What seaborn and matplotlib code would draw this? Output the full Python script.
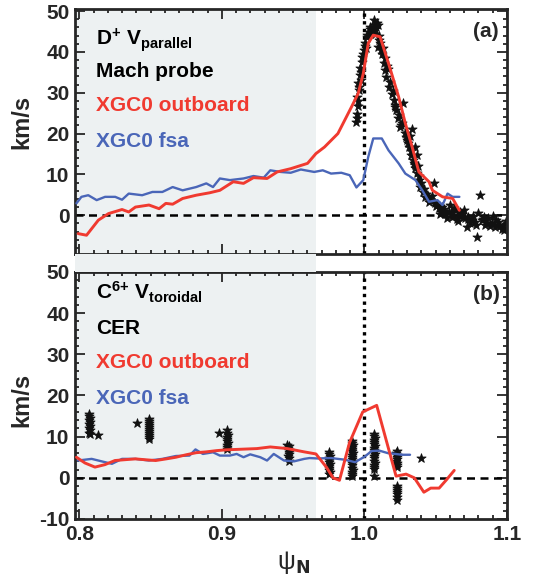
import numpy as np
import pandas as pd
import seaborn as sns
from matplotlib import pyplot as plt
from matplotlib.ticker import MultipleLocator
from matplotlib.patches import Rectangle
from matplotlib.transforms import blended_transform_factory

sns.set_theme(style="ticks")
plt.rcParams['font.family'] = ['Liberation Sans', 'DejaVu Sans']
plt.rcParams['font.weight'] = 'bold'
plt.rcParams['mathtext.default'] = 'regular'

RED = "#f03a30"
BLUE = "#4a66b8"
SHADE = "#edf1f2"

# ---- panel (a): D+ V_parallel ----
a_red_x = [0.7992, 0.8051, 0.8134, 0.8205, 0.83, 0.8347, 0.8394, 0.8489, 0.856, 0.8607,
           0.8655, 0.8725, 0.882, 0.8915, 0.8986, 0.908, 0.9152, 0.9222, 0.9317, 0.9388,
           0.9483, 0.9601, 0.966, 0.972, 0.9814, 0.9909, 0.9956, 0.9992, 1.0027, 1.0062,
           1.011, 1.0169, 1.024, 1.0287, 1.0335, 1.0382, 1.0453, 1.0477, 1.0548, 1.0619, 1.0666]
a_red_y = [-4.5, -4.9, -1.2, 0.4, 1.4, 0.8, 2.0, 2.5, 1.6, 2.9,
           2.7, 4.1, 4.9, 5.5, 6.1, 8.2, 7.8, 9.2, 9.0, 10.6,
           11.4, 12.7, 15.1, 16.7, 20.0, 26.5, 29.8, 34.7, 42.1, 44.1,
           43.7, 37.2, 29.0, 22.5, 16.7, 10.6, 8.2, 6.1, 4.5, 4.1, 1.2]

a_blue_x = [0.798, 0.8015, 0.8063, 0.8122, 0.8181, 0.8252, 0.83, 0.8347, 0.8441, 0.8513,
            0.8583, 0.8655, 0.8725, 0.882, 0.8891, 0.8938, 0.8986, 0.9057, 0.9152, 0.9222,
            0.9294, 0.934, 0.9412, 0.9483, 0.9554, 0.9648, 0.9708, 0.9766, 0.9838, 0.9897,
            0.9944, 0.9992, 1.0027, 1.0062, 1.0122, 1.0169, 1.024, 1.0287, 1.0358, 1.0406,
            1.0453, 1.0512, 1.0548, 1.0583, 1.0619, 1.0666]
a_blue_y = [2.9, 4.5, 4.9, 3.7, 4.5, 4.5, 3.8, 5.3, 4.9, 5.7,
            5.7, 6.9, 6.1, 6.9, 7.8, 6.9, 9.0, 8.6, 9.0, 9.6,
            9.2, 11.0, 10.6, 10.4, 11.2, 10.6, 11.0, 10.2, 10.4, 9.8,
            6.8, 8.6, 14.3, 18.8, 18.8, 15.9, 12.7, 10.2, 8.6, 6.1,
            3.3, 3.7, 2.5, 5.3, 4.5, 4.5]

mach_x = [0.9942, 0.9949, 0.9949, 0.9956, 0.996, 0.9956, 0.9968, 0.9972, 0.9984, 0.998,
          0.9995, 1.0007, 1.0019, 1.003, 1.0042, 1.0065, 1.0082, 1.0096, 1.0042, 1.0058,
          1.0077, 1.0065, 1.01, 1.0096, 1.0112, 1.0124, 1.0135, 1.0147, 1.0152, 1.017,
          1.019, 1.0205, 1.0224, 1.0236, 1.0252, 1.0264, 1.0283, 1.0299, 1.031, 1.033,
          1.0334, 1.0345, 1.0357, 1.0368, 1.0357, 1.0368, 1.038, 1.0392, 1.0408, 1.0427,
          1.0462, 1.0485, 1.0497, 1.052, 1.0543, 1.0567, 1.059, 1.0613, 1.0637, 1.066,
          1.0683, 1.0706, 1.073, 1.0753, 1.0776, 1.0788, 1.081, 1.0822, 1.0846, 1.0869,
          1.0893, 1.0916, 1.094, 1.0963, 1.0982, 0.9975, 1.0012, 1.0052, 1.0118, 1.0162,
          1.0215, 1.0272, 1.0318, 1.0375, 1.0435, 1.0505, 1.0555, 1.0598, 1.0648, 1.0695,
          1.0742, 1.0798, 1.0858, 1.0905, 1.0952, 1.0995, 1.0475, 1.0528, 1.0625, 1.0718,
          0.9946, 0.9953, 0.9964, 0.9978, 0.9990, 1.0002, 1.0015, 1.0036, 1.0072, 1.0088,
          1.0105, 1.0128, 1.0141, 1.0158, 1.0178, 1.0198, 1.0218, 1.0245, 1.0258, 1.0292,
          1.0305, 1.0325, 1.0340, 1.0352, 1.0385, 1.0398, 1.0418, 1.0445, 1.0455, 1.0512,
          1.0535, 1.0560, 1.0582, 1.0606, 1.0630, 1.0655, 1.0672, 1.0690, 1.0725, 1.0765,
          1.0785, 1.0830, 1.0880, 1.0925, 1.0970, 1.0990, 1.0838, 1.0935]
mach_y = [22.9, 24.9, 29.0, 27.9, 30.6, 32.3, 34.3, 36.0, 37.6, 38.8,
          40.4, 42.1, 43.7, 44.9, 45.7, 46.6, 46.2, 46.6, 44.5, 44.9,
          44.5, 47.8, 42.9, 41.2, 42.1, 39.6, 37.2, 35.5, 33.9, 31.4,
          29.8, 28.2, 25.7, 23.7, 21.6, 22.5, 20.1, 18.4, 16.8, 14.8,
          21.2, 12.7, 11.5, 10.3, 16.8, 14.8, 8.6, 7.0, 5.8, 4.5,
          3.7, 7.8, 2.9, 1.7, 2.1, 0.4, 0.8, -0.4, 1.2, 0.0,
          0.4, -0.8, -0.4, -1.2, -1.6, -5.3, 4.9, -1.2, -2.5, -0.8,
          -2.0, -2.9, -1.6, -3.3, -3.7, 33.0, 41.0, 45.2, 40.5, 35.8,
          26.5, 27.6, 19.5, 12.0, 5.2, 2.3, 1.0, 2.6, -1.0, 1.3,
          -2.0, 0.6, -1.8, -0.2, -2.6, -1.5, 4.6, 0.2, 1.8, -2.8,
          23.8, 26.8, 31.5, 35.2, 39.6, 41.5, 44.2, 46.0, 45.5, 47.2,
          44.0, 41.0, 38.4, 36.5, 32.6, 30.5, 27.0, 24.5, 22.0, 19.2,
          17.6, 15.8, 13.5, 12.2, 9.5, 8.0, 6.4, 4.8, 3.2, 2.4,
          0.9, 1.5, -0.6, 0.6, -0.2, -1.4, 0.9, -0.5, -1.0, -0.2,
          -2.3, -1.0, -2.7, -1.2, -3.1, -2.2, -0.4, -2.4]

# ---- panel (b): C6+ V_toroidal ----
b_red_x = [0.798, 0.804, 0.811, 0.818, 0.825, 0.832, 0.8394, 0.846, 0.8536, 0.861,
           0.8678, 0.875, 0.882, 0.889, 0.8962, 0.903, 0.9104, 0.9175, 0.9246, 0.934,
           0.9459, 0.9578, 0.966, 0.9735, 0.978, 0.9825, 0.9895, 0.9988, 1.0086, 1.015,
           1.0222, 1.0292, 1.035, 1.0417, 1.0465, 1.0524, 1.0575, 1.063]
b_red_y = [5.0, 3.6, 2.6, 3.2, 4.2, 4.4, 4.6, 4.4, 4.2, 4.6,
           5.0, 5.6, 6.1, 6.3, 6.6, 6.8, 6.9, 7.0, 7.1, 7.5,
           7.1, 6.3, 5.8, 2.5, 0.0, -0.6, 8.5, 16.0, 17.6, 9.5,
           0.4, 0.9, 0.0, -3.5, -2.5, -2.5, -0.5, 1.8]

b_blue_x = [0.799, 0.8087, 0.8157, 0.8229, 0.83, 0.8394, 0.8489, 0.8583, 0.8678, 0.8773,
            0.8815, 0.8867, 0.8938, 0.8986, 0.9056, 0.9104, 0.9152, 0.9199, 0.927, 0.9317,
            0.9364, 0.9436, 0.9506, 0.9578, 0.9615, 0.9672, 0.9766, 0.9862, 0.9935, 1.0004,
            1.005, 1.0105, 1.0164, 1.0217, 1.0264, 1.032]
b_blue_y = [4.2, 4.6, 4.0, 3.4, 4.6, 4.6, 4.2, 4.6, 5.3, 5.4,
            6.9, 5.8, 6.2, 5.4, 5.4, 5.8, 5.0, 5.7, 5.0, 4.2,
            5.8, 4.2, 4.0, 4.6, 4.8, 4.7, 4.8, 4.4, 3.8, 5.2,
            6.5, 6.6, 6.0, 5.8, 5.6, 5.6]

cer_x = [0.8065, 0.807, 0.8075, 0.8068, 0.8078, 0.807, 0.8074, 0.8066, 0.8076, 0.807, 0.8075, 0.8134,
         0.8406,
         0.849, 0.8486, 0.8492, 0.8488, 0.849, 0.8486, 0.8492, 0.8488, 0.849, 0.8486, 0.8492,
         0.8981,
         0.9038, 0.9034, 0.904, 0.9036, 0.9038, 0.9034, 0.904, 0.9036, 0.9038, 0.9034,
         0.9471, 0.9467, 0.9473, 0.9469, 0.9471, 0.9467, 0.9473, 0.9469, 0.946,
         0.9755, 0.9751, 0.9757, 0.9753, 0.9755, 0.9751, 0.9757, 0.9753, 0.9755, 0.9751, 0.9757, 0.9753,
         0.9916, 0.9912, 0.9918, 0.9914, 0.9916, 0.9912, 0.9918, 0.9914, 0.9916, 0.9912,
         0.9918, 0.9914, 0.9916, 0.9912, 0.9918, 0.9914, 0.9916, 0.9912,
         1.007, 1.0066, 1.0072, 1.0068, 1.007, 1.0066, 1.0072, 1.0068, 1.007, 1.0066,
         1.0072, 1.0068, 1.007, 1.0066, 1.0072, 1.0068, 1.007, 1.0066, 1.007,
         1.0228, 1.0224, 1.023, 1.0226, 1.0228, 1.0224, 1.023, 1.0226, 1.0228,
         1.0228, 1.0226, 1.0228, 1.0226, 1.0228, 1.0226, 1.0228,
         1.0396]
cer_y = [15.5, 15.0, 14.5, 14.0, 13.5, 13.0, 12.5, 12.0, 11.5, 11.0, 10.7, 10.3,
         13.3,
         14.3, 13.8, 13.3, 12.8, 12.3, 11.8, 11.3, 10.8, 10.3, 9.8, 9.5,
         10.9,
         11.5, 11.0, 10.5, 10.0, 9.5, 9.0, 8.5, 8.0, 7.5, 7.0,
         7.8, 7.3, 6.8, 6.3, 5.8, 5.3, 4.8, 4.2, 8.0,
         6.3, 5.8, 5.3, 4.8, 4.3, 3.8, 3.3, 2.8, 2.3, 1.8, 1.3, 1.0,
         9.0, 8.5, 8.0, 7.5, 7.0, 6.5, 6.0, 5.5, 5.0, 4.5,
         4.0, 3.5, 3.0, 2.5, 2.0, 1.5, 1.0, 0.5,
         10.7, 10.2, 9.7, 9.2, 8.7, 8.2, 7.7, 7.2, 6.7, 6.2,
         5.7, 5.2, 4.7, 4.2, 3.7, 3.2, 2.7, 2.2, 0.5,
         6.5, 6.0, 5.5, 5.0, 4.5, 4.0, 3.5, 3.0, 2.7,
         -1.9, -2.5, -3.0, -3.5, -4.0, -4.7, -5.3,
         4.9]

XMIN, XMAX = 0.797, 1.1
SEP = 0.966

fig = plt.figure(figsize=(5.33, 5.83), dpi=100)
ax_a = fig.add_axes([0.1407, 0.5643, 0.8105, 0.4202])
ax_b = fig.add_axes([0.1407, 0.1098, 0.8105, 0.4237])


def draw_panel(ax, rx, ry, bx, by, px, py, ylim):
    ax.axvspan(XMIN, SEP, color=SHADE, lw=0, zorder=0)
    ax.axhline(0, color='black', lw=1.8, ls=(0, (3.2, 2.2)), zorder=1)
    ax.axvline(1.0, color='black', lw=2.4, ls=(0, (1, 1.3)), zorder=1)
    sns.scatterplot(x=px, y=py, ax=ax, color='#111111', marker='*', s=48,
                    edgecolor='#111111', linewidth=0.6, zorder=2, legend=False)
    sns.lineplot(x=bx, y=by, ax=ax, color=BLUE, lw=1.7, sort=False,
                 estimator=None, zorder=3)
    sns.lineplot(x=rx, y=ry, ax=ax, color=RED, lw=2.1, sort=False,
                 estimator=None, zorder=4)
    ax.set_xlim(XMIN, XMAX)
    ax.set_ylim(*ylim)
    ax.xaxis.set_major_locator(MultipleLocator(0.1))
    ax.xaxis.set_minor_locator(MultipleLocator(0.01))
    ax.yaxis.set_major_locator(MultipleLocator(10))
    ax.yaxis.set_minor_locator(MultipleLocator(2))
    ax.tick_params(which='both', direction='in', top=True, right=True,
                   labelsize=15, width=1.3, pad=4)
    ax.tick_params(which='major', length=7)
    ax.tick_params(which='minor', length=3)
    for sp in ax.spines.values():
        sp.set_linewidth(2)


draw_panel(ax_a, a_red_x, a_red_y, a_blue_x, a_blue_y, mach_x, mach_y, (-9.5, 50.5))
draw_panel(ax_b, b_red_x, b_red_y, b_blue_x, b_blue_y, cer_x, cer_y, (-10, 50))

ax_a.set_yticks([0, 10, 20, 30, 40, 50])
ax_a.set_yticklabels(['0', '10', '20', '30', '40', '50'], fontweight='bold')
ax_a.set_xticklabels([])
ax_b.set_xticks([0.8, 0.9, 1.0, 1.1])
ax_b.set_xticklabels(['0.8', '0.9', '1.0', '1.1'], fontweight='bold')
ax_b.set_yticks([-10, 0, 10, 20, 30, 40, 50])
ax_b.set_yticklabels(['-10', '0', '10', '20', '30', '40', '50'], fontweight='bold')

for ax, ly in ((ax_a, 0.54), (ax_b, 0.48)):
    ax.set_ylabel('km/s', fontsize=17, fontweight='bold')
    ax.yaxis.set_label_coords(-0.097, ly)
ax_a.set_xlabel('')
ax_b.set_xlabel(r'$\psi_{\mathbf{N}}$', fontsize=18)
ax_b.xaxis.set_label_coords(0.507, -0.12)

labels_a = [(r'D$^{+}$ V$_{parallel}$', 'black', 0.853),
            ('Mach probe', 'black', 0.721),
            ('XGC0 outboard', RED, 0.584),
            ('XGC0 fsa', BLUE, 0.438)]
labels_b = [(r'C$^{6{+}}$ V$_{toroidal}$', 'black', 0.887),
            ('CER', 'black', 0.748),
            ('XGC0 outboard', RED, 0.610),
            ('XGC0 fsa', BLUE, 0.466)]
for ax, labs in ((ax_a, labels_a), (ax_b, labels_b)):
    for txt, col, yy in labs:
        ax.text(0.049, yy, txt, color=col, transform=ax.transAxes, fontsize=15,
                fontweight='bold', va='baseline', ha='left')
ax_a.text(0.981, 0.884, '(a)', transform=ax_a.transAxes, fontsize=15,
          fontweight='bold', va='baseline', ha='right')
ax_b.text(0.984, 0.887, '(b)', transform=ax_b.transAxes, fontsize=15,
          fontweight='bold', va='baseline', ha='right')

# shade the gap between the two panels too
tr = blended_transform_factory(ax_b.transData, fig.transFigure)
fig.patches.append(Rectangle((XMIN, 0.1098 + 0.4237), SEP - XMIN, 0.5643 - 0.1098 - 0.4237,
                             transform=tr, facecolor=SHADE, edgecolor='none', zorder=0))

plt.savefig('out.png', dpi=100)
